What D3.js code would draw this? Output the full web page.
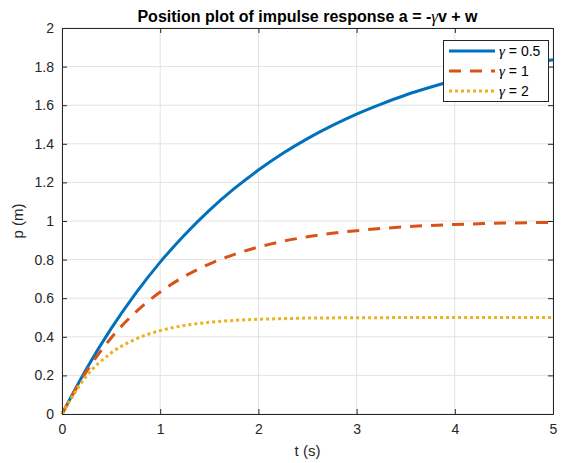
<!DOCTYPE html>
<html>
<head>
<meta charset="utf-8">
<script src="https://cdn.jsdelivr.net/npm/d3@7"></script>
<style>
  html, body { margin: 0; padding: 0; background: #fff; }
  svg { display: block; font-family: "Liberation Sans", Arial, Helvetica, sans-serif; }
  .greek { font-family: "Liberation Serif", "DejaVu Serif", serif; font-style: italic; font-weight: normal; }
</style>
</head>
<body>
<svg id="chart" width="564" height="463"></svg>
<script>
// Sample times (s)
const times = [0, 0.25, 0.5, 0.75, 1, 1.25, 1.5, 1.75, 2, 2.25, 2.5, 2.75, 3,
               3.25, 3.5, 3.75, 4, 4.25, 4.5, 4.75, 5];
// Position p (m) for each damping value
const posGamma05 = [0, 0.235, 0.442, 0.625, 0.787, 0.929, 1.055, 1.166, 1.264, 1.351, 1.427,
                    1.494, 1.554, 1.606, 1.653, 1.693, 1.729, 1.761, 1.789, 1.814, 1.836];
const posGamma1  = [0, 0.221, 0.394, 0.528, 0.632, 0.714, 0.777, 0.826, 0.865, 0.895, 0.918,
                    0.936, 0.950, 0.961, 0.970, 0.977, 0.982, 0.986, 0.989, 0.991, 0.993];
const posGamma2  = [0, 0.197, 0.316, 0.388, 0.432, 0.459, 0.475, 0.485, 0.491, 0.494, 0.497,
                    0.498, 0.499, 0.499, 0.500, 0.500, 0.500, 0.500, 0.500, 0.500, 0.500];
const gammaValues = ["0.5", "1", "2"];
const xTicks = [0, 1, 2, 3, 4, 5];
const yTicks = [0, 0.2, 0.4, 0.6, 0.8, 1, 1.2, 1.4, 1.6, 1.8, 2];

const series = [
  { gamma: gammaValues[0], values: posGamma05, color: "#0072BD", dash: null, width: 3 },
  { gamma: gammaValues[1], values: posGamma1,  color: "#D95319", dash: "12,9", width: 3 },
  { gamma: gammaValues[2], values: posGamma2,  color: "#EDB120", dash: "3,3", width: 3 }
];

const svg = d3.select("#chart");
const plotL = 62, plotR = 553, plotT = 28, plotB = 414;

const x = d3.scaleLinear().domain([0, 5]).range([plotL, plotR]);
const y = d3.scaleLinear().domain([0, 2]).range([plotB, plotT]);

// Grid lines
const grid = svg.append("g");
grid.selectAll(".gx").data(xTicks).enter().append("line")
  .attr("x1", d => x(d)).attr("x2", d => x(d))
  .attr("y1", plotT).attr("y2", plotB)
  .attr("stroke", "#e3e3e3").attr("stroke-width", 1);
grid.selectAll(".gy").data(yTicks).enter().append("line")
  .attr("x1", plotL).attr("x2", plotR)
  .attr("y1", d => y(d)).attr("y2", d => y(d))
  .attr("stroke", "#e3e3e3").attr("stroke-width", 1);

// Curves
const line = d3.line()
  .x((d, i) => x(times[i]))
  .y(d => y(d))
  .curve(d3.curveMonotoneX);

const plot = svg.append("g");
series.forEach(s => {
  plot.append("path")
    .datum(s.values)
    .attr("d", line)
    .attr("fill", "none")
    .attr("stroke", s.color)
    .attr("stroke-width", s.width)
    .attr("stroke-dasharray", s.dash)
    .attr("stroke-linejoin", "round");
});

// Axes with inward ticks on all four sides
const axisColor = "#262626";
const tickLen = 5;
const xAxis = d3.axisBottom(x).tickValues(xTicks).tickSize(-tickLen).tickPadding(10).tickFormat(d3.format("d"));
const yAxis = d3.axisLeft(y).tickValues(yTicks).tickSize(-tickLen).tickPadding(8).tickFormat(d => d3.format("")(d));
const xAxisTop = d3.axisTop(x).tickValues(xTicks).tickSize(-tickLen).tickFormat("");
const yAxisRight = d3.axisRight(y).tickValues(yTicks).tickSize(-tickLen).tickFormat("");

function styleAxis(g) {
  g.select(".domain").attr("stroke", axisColor).attr("stroke-width", 1);
  g.selectAll(".tick line").attr("stroke", axisColor);
  g.selectAll(".tick text").attr("fill", axisColor).attr("font-size", 14)
    .attr("font-family", "Liberation Sans, Arial, sans-serif");
}

svg.append("g").attr("transform", `translate(0,${plotB})`).call(xAxis).call(styleAxis);
svg.append("g").attr("transform", `translate(${plotL},0)`).call(yAxis).call(styleAxis);
svg.append("g").attr("transform", `translate(0,${plotT})`).call(xAxisTop).call(styleAxis);
svg.append("g").attr("transform", `translate(${plotR},0)`).call(yAxisRight).call(styleAxis);

// Title with a TeX-style gamma
const title = svg.append("text")
  .attr("x", (plotL + plotR) / 2).attr("y", 22)
  .attr("text-anchor", "middle")
  .attr("font-size", 16).attr("font-weight", "bold").attr("fill", "#000");
title.append("tspan").text("Position plot of impulse response a = -");
title.append("tspan").attr("class", "greek").attr("font-size", 17).text("\u03b3");
title.append("tspan").text("v + w");

svg.append("text")
  .attr("x", (plotL + plotR) / 2).attr("y", 456)
  .attr("text-anchor", "middle")
  .attr("font-size", 15).attr("fill", axisColor)
  .text("t (s)");

svg.append("text")
  .attr("transform", `translate(23,${(plotT + plotB) / 2}) rotate(-90)`)
  .attr("text-anchor", "middle")
  .attr("font-size", 15).attr("fill", axisColor)
  .text("p (m)");

// Legend
const lg = svg.append("g").attr("transform", "translate(443,40)");
lg.append("rect")
  .attr("x", 0.5).attr("y", 0.5).attr("width", 105).attr("height", 61)
  .attr("fill", "#fff").attr("stroke", axisColor).attr("stroke-width", 1);
series.forEach((s, i) => {
  const cy = 11 + i * 20;
  lg.append("line")
    .attr("x1", 6).attr("x2", 52).attr("y1", cy).attr("y2", cy)
    .attr("stroke", s.color).attr("stroke-width", s.width)
    .attr("stroke-dasharray", s.dash);
  const t = lg.append("text")
    .attr("x", 56).attr("y", cy + 5)
    .attr("font-size", 14).attr("fill", "#000");
  t.append("tspan").attr("class", "greek").attr("font-size", 15).text("\u03b3");
  t.append("tspan").text(" = " + s.gamma);
});
</script>
</body>
</html>
